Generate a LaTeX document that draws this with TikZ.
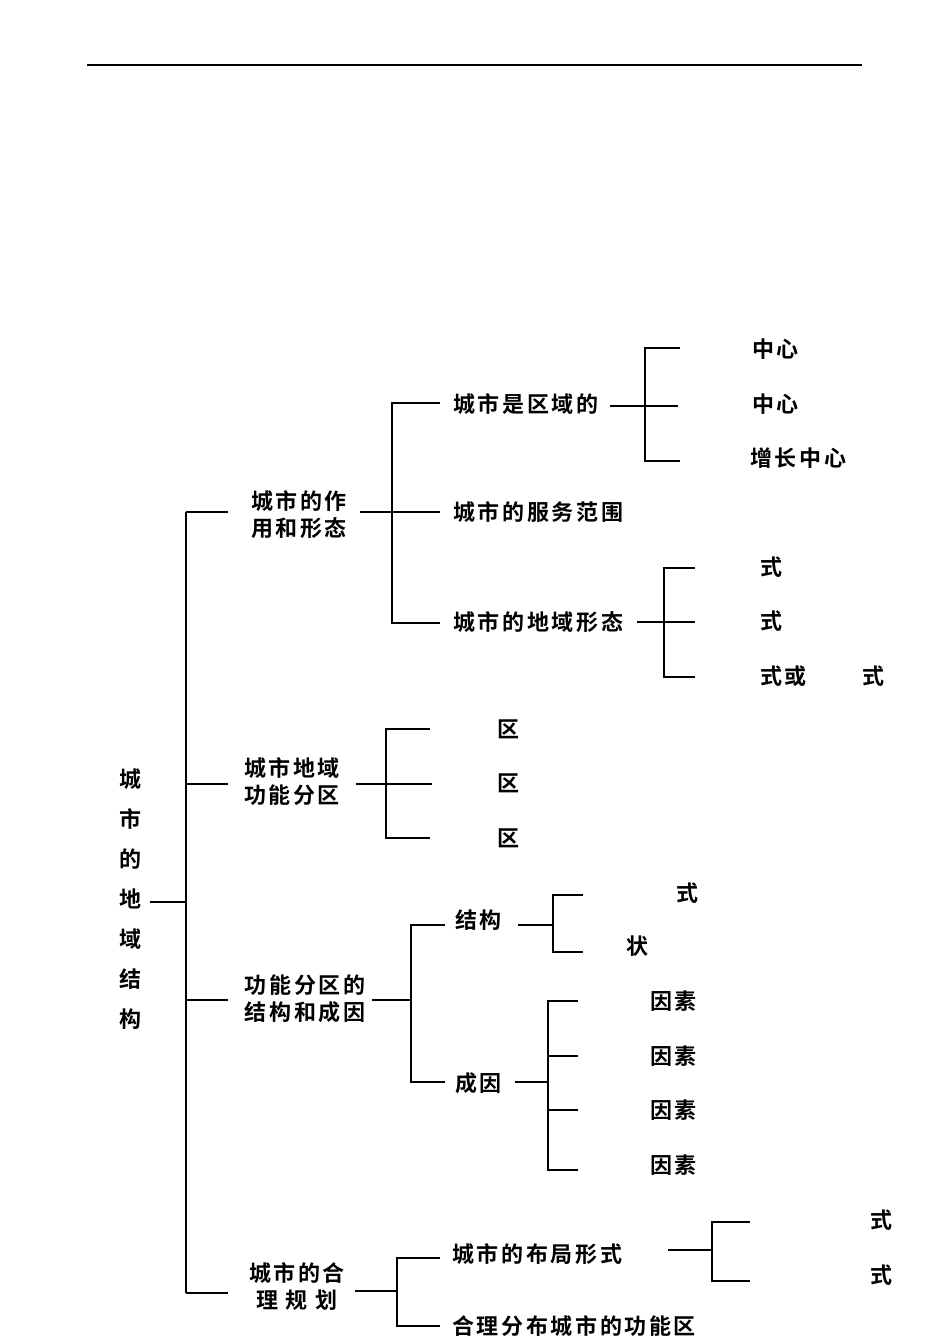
\documentclass[tikz,border=0pt]{standalone}
\usepackage{fontspec}
\setmainfont{Noto Sans CJK SC}[BoldFont={* Bold},LetterSpace=12]
\begin{document}
\begin{tikzpicture}[x=1pt,y=-1pt,
  t/.style={inner sep=0pt,font=\fontsize{22}{27}\selectfont\bfseries},
  tl/.style={t,anchor=west},
  ln/.style={line width=1.1pt}]
\useasboundingbox (0,0) rectangle (950,1342);
\draw[ln] (87,65) -- (862,65);
% root
\node[t,align=center,font=\fontsize{22}{40}\selectfont\bfseries] (root) at (130,899) {城\\市\\的\\地\\域\\结\\构};
\coordinate (r1) at (150,902); \coordinate (r2) at (186,902);
\draw[ln] (r1) -- (r2);
\draw[ln] (186,512) -- (186,1293);
\foreach \y in {512,784,1000,1293} \draw[ln] (186,\y) -- (228,\y);
% branch 1
\node[t,align=center] (b1) at (299,515) {城市的作\\用和形态};
\draw[ln] (360,512) -- (440,512);
\draw[ln] (440,403) -- (392,403) -- (392,623) -- (440,623);
\node[tl] (c1) at (453,404) {城市是区域的};
\node[tl] (c2) at (453,512) {城市的服务范围};
\node[tl] (c3) at (453,622) {城市的地域形态};
\draw[ln] (610,406) -- (678,406);
\draw[ln] (680,348) -- (645,348) -- (645,461) -- (680,461);
\node[tl] (d1) at (752,349) {中心};
\node[tl] (d2) at (752,404) {中心};
\node[tl] (d3) at (750,458) {增长中心};
\draw[ln] (637,622) -- (695,622);
\draw[ln] (695,568) -- (664,568) -- (664,677) -- (695,677);
\node[tl] (e1) at (760,567) {式};
\node[tl] (e2) at (760,621) {式};
\node[tl] (e3) at (760,676) {式或};
\node[tl] (e4) at (862,676) {式};
% branch 2
\node[t,align=center] (b2) at (292,782) {城市地域\\功能分区};
\draw[ln] (356,784) -- (432,784);
\draw[ln] (430,729) -- (386,729) -- (386,838) -- (430,838);
\node[tl] (f1) at (497,729) {区};
\node[tl] (f2) at (497,783) {区};
\node[tl] (f3) at (497,838) {区};
% branch 3
\node[t,align=center] (b3) at (305,999) {功能分区的\\结构和成因};
\draw[ln] (372,1000) -- (411,1000);
\draw[ln] (445,925) -- (411,925) -- (411,1082) -- (445,1082);
\node[tl] (g1) at (455,920) {结构};
\node[tl] (g2) at (455,1083) {成因};
\draw[ln] (518,925) -- (553,925);
\draw[ln] (583,895) -- (553,895) -- (553,952) -- (583,952);
\node[tl] (h1) at (676,893) {式};
\node[tl] (h2) at (626,946) {状};
\draw[ln] (515,1082) -- (548,1082);
\draw[ln] (578,1001) -- (548,1001) -- (548,1170) -- (578,1170);
\draw[ln] (548,1056) -- (578,1056);
\draw[ln] (548,1110) -- (578,1110);
\foreach \y/\n in {1001/i1,1056/i2,1110/i3,1165/i4} \node[tl] (\n) at (650,\y) {因素};
% branch 4
\node[t,align=center] (b4) at (297,1287) {城市的合\\理\,\,规\,\,划};
\draw[ln] (355,1291) -- (397,1291);
\draw[ln] (440,1258) -- (397,1258) -- (397,1326) -- (440,1326);
\node[tl] (j1) at (452,1254) {城市的布局形式};
\node[tl] (j2) at (452,1326) {合理分布城市的功能区};
\draw[ln] (668,1250) -- (712,1250);
\draw[ln] (750,1222) -- (712,1222) -- (712,1281) -- (750,1281);
\node[tl] (k1) at (870,1220) {式};
\node[tl] (k2) at (870,1275) {式};
\end{tikzpicture}
\end{document}
